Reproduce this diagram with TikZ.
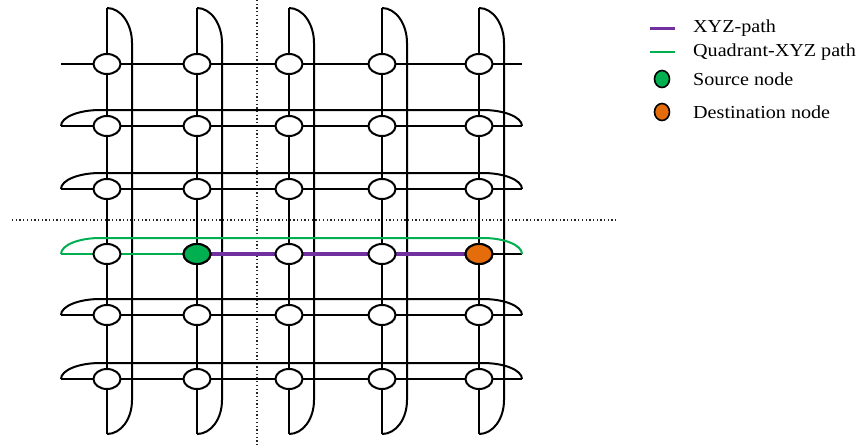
\documentclass[tikz,border=0pt]{standalone}
\usepackage{fontspec}
\setmainfont{Liberation Serif}
\newfontfamily\legendfont[FakeStretch=1.1]{Liberation Serif}
\usetikzlibrary{shapes.geometric}
\definecolor{pathpurple}{RGB}{112,48,160}
\definecolor{pathgreen}{RGB}{0,176,80}
\definecolor{destorange}{RGB}{228,108,10}
\tikzset{
  wire/.style={line width=2pt, black},
  router/.style={ellipse, draw=black, line width=2pt, fill=white, minimum width=27pt, minimum height=20pt, inner sep=0pt},
  srcnode/.style={router, fill=pathgreen},
  dstnode/.style={router, fill=destorange},
  divider/.style={line width=1.3pt, dash pattern=on 1.3pt off 2.4pt, black!85},
  greenwire/.style={line width=2pt, pathgreen},
  purplewire/.style={line width=3.2pt, pathpurple},
  legtext/.style={anchor=west, inner sep=0pt, font=\legendfont\fontsize{18.3}{20}\selectfont},
  legdot/.style={ellipse, draw=black, line width=1.6pt, minimum width=15pt, minimum height=17pt, inner sep=0pt}
}
\begin{document}
\begin{tikzpicture}[x=1pt, y=-1pt]
\useasboundingbox (0,0) rectangle (866,445);
% quadrant dividers
\coordinate (vtop) at (257,0);
\coordinate (vbot) at (257,445);
\coordinate (hl) at (12,220);
\coordinate (hr) at (617,220);
\draw[divider] (vtop) -- (vbot);
\draw[divider] (hl) -- (hr);
% columns with wrap-around loops
\foreach \x [count=\i] in {107,197,289,382,479} {
  \coordinate (ct\i) at (\x,8);
  \coordinate (cb\i) at (\x,434);
  \draw[wire] (ct\i) -- (cb\i);
  \draw[wire] (ct\i) .. controls +(14,0) and +(0,-19) .. (\x+25,43) -- (\x+25,400) .. controls +(0,19) and +(14,0) .. (cb\i);
}
% row 1 (no loop)
\coordinate (rl1) at (61,64);
\coordinate (rr1) at (522,64);
\draw[wire] (rl1) -- (rr1);
% rows 2,3,5,6 with loops
\foreach \y/\j in {126/2,189/3,315/5,379/6} {
  \coordinate (rl\j) at (61,\y);
  \coordinate (rr\j) at (522,\y);
  \draw[wire] (rl\j) -- (rr\j);
  \draw[wire] (rl\j) .. controls +(0,-9) and +(-21,0) .. (100,\y-16) -- (483,\y-16) .. controls +(21,0) and +(0,-9) .. (rr\j);
}
% row 4 with highlighted paths
\coordinate (rl4) at (61,254);
\coordinate (rr4) at (522,254);
\foreach \x [count=\i] in {107,197,289,382,479} {
  \foreach \y [count=\j] in {64,126,189,254,315,379} {
    \coordinate (p-\i-\j) at (\x,\y);
  }
}
\draw[wire] (p-5-4) -- (rr4);
\draw[greenwire] (rl4) -- (p-2-4);
\draw[greenwire] (rl4) .. controls +(0,-9) and +(-21,0) .. (100,238) -- (483,238) .. controls +(21,0) and +(0,-9) .. (rr4);
\draw[purplewire] (p-2-4) -- (p-5-4);
% routers
\foreach \i in {1,...,5} {
  \foreach \j in {1,...,6} {
    \node[router] (n-\i-\j) at (p-\i-\j) {};
  }
}
\node[srcnode] (src) at (p-2-4) {};
\node[dstnode] (dst) at (p-5-4) {};
% legend
\coordinate (lp1) at (650,28);
\coordinate (lp2) at (675,28);
\coordinate (lg1) at (650,52);
\coordinate (lg2) at (675,52);
\draw[line width=3pt, pathpurple] (lp1) -- (lp2);
\draw[line width=1.5pt, pathgreen] (lg1) -- (lg2);
\node[legdot, fill=pathgreen] (ls) at (662,79) {};
\node[legdot, fill=destorange] (ld) at (662,112) {};
\node[legtext] (t1) at (693,28) {XYZ-path};
\node[legtext] (t2) at (693,52) {Quadrant-XYZ path};
\node[legtext] (t3) at (693,79) {Source node};
\node[legtext] (t4) at (693,112) {Destination node};
\end{tikzpicture}
\end{document}
